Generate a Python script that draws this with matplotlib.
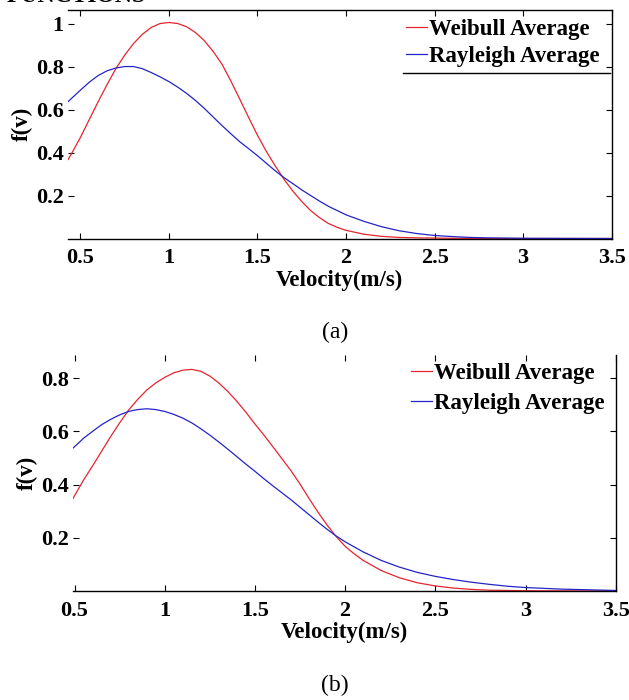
import matplotlib
matplotlib.use("Agg")
import matplotlib.pyplot as plt
from matplotlib.lines import Line2D

# ---------------- data ----------------
# (a)
v_a_weib = [0.43, 0.45, 0.5, 0.55, 0.6, 0.65, 0.7, 0.75, 0.8, 0.85, 0.9, 0.95,
            1.0, 1.05, 1.1, 1.15, 1.2, 1.25, 1.3, 1.35, 1.4, 1.45, 1.5, 1.55,
            1.6, 1.65, 1.7, 1.75, 1.8, 1.85, 1.9, 1.95, 2.0, 2.1, 2.2, 2.3,
            2.4, 2.6, 2.8, 3.5]
f_a_weib = [0.367, 0.395, 0.47, 0.553, 0.636, 0.715, 0.79, 0.853, 0.907, 0.95,
            0.982, 1.0, 1.005, 1.0, 0.985, 0.958, 0.92, 0.87, 0.81, 0.732,
            0.648, 0.563, 0.48, 0.405, 0.338, 0.275, 0.22, 0.172, 0.13, 0.097,
            0.07, 0.052, 0.038, 0.02, 0.01, 0.005, 0.003, 0.001, 0.0, 0.0]
v_a_rayl = [0.43, 0.45, 0.5, 0.55, 0.6, 0.65, 0.7, 0.75, 0.8, 0.85, 0.9, 0.95,
            1.0, 1.05, 1.1, 1.15, 1.2, 1.25, 1.3, 1.35, 1.4, 1.45, 1.5, 1.55,
            1.6, 1.65, 1.7, 1.75, 1.8, 1.85, 1.9, 1.95, 2.0, 2.1, 2.2, 2.3,
            2.4, 2.5, 2.6, 2.7, 2.8, 3.0, 3.5]
f_a_rayl = [0.636, 0.652, 0.69, 0.727, 0.758, 0.78, 0.793, 0.80, 0.80, 0.79,
            0.772, 0.752, 0.73, 0.704, 0.675, 0.642, 0.605, 0.565, 0.525,
            0.487, 0.45, 0.418, 0.385, 0.35, 0.315, 0.283, 0.255, 0.226, 0.20,
            0.174, 0.15, 0.13, 0.11, 0.08, 0.055, 0.036, 0.023, 0.014, 0.009,
            0.005, 0.003, 0.001, 0.0]

# (b)
v_b_weib = [0.49, 0.55, 0.6, 0.65, 0.7, 0.75, 0.8, 0.85, 0.9, 0.95, 1.0, 1.05,
            1.1, 1.15, 1.2, 1.25, 1.3, 1.35, 1.4, 1.45, 1.5, 1.55, 1.6, 1.65,
            1.7, 1.75, 1.8, 1.85, 1.9, 1.95, 2.0, 2.05, 2.1, 2.2, 2.3, 2.4,
            2.5, 2.6, 2.7, 2.8, 3.0, 3.5]
f_b_weib = [0.346, 0.417, 0.47, 0.525, 0.58, 0.632, 0.68, 0.72, 0.755, 0.782,
            0.803, 0.82, 0.83, 0.833, 0.826, 0.808, 0.782, 0.75, 0.713, 0.672,
            0.628, 0.586, 0.542, 0.497, 0.452, 0.402, 0.348, 0.296, 0.248,
            0.205, 0.168, 0.14, 0.115, 0.077, 0.05, 0.031, 0.019, 0.011,
            0.006, 0.003, 0.001, 0.0]
v_b_rayl = [0.49, 0.55, 0.6, 0.65, 0.7, 0.75, 0.8, 0.85, 0.9, 0.95, 1.0, 1.05,
            1.1, 1.15, 1.2, 1.25, 1.3, 1.35, 1.4, 1.45, 1.5, 1.55, 1.6, 1.65,
            1.7, 1.75, 1.8, 1.85, 1.9, 1.95, 2.0, 2.1, 2.2, 2.3, 2.4, 2.5,
            2.6, 2.7, 2.8, 2.9, 3.0, 3.2, 3.5]
f_b_rayl = [0.536, 0.574, 0.60, 0.625, 0.645, 0.662, 0.675, 0.682, 0.685,
            0.682, 0.675, 0.664, 0.65, 0.632, 0.61, 0.586, 0.56, 0.533, 0.505,
            0.477, 0.45, 0.422, 0.395, 0.369, 0.343, 0.315, 0.287, 0.259,
            0.232, 0.207, 0.185, 0.147, 0.115, 0.09, 0.07, 0.055, 0.043,
            0.033, 0.025, 0.018, 0.013, 0.007, 0.002]

x_ticks = [0.5, 1, 1.5, 2, 2.5, 3, 3.5]
x_tick_labels = ["0.5", "1", "1.5", "2", "2.5", "3", "3.5"]
y_ticks_a = [0.2, 0.4, 0.6, 0.8, 1.0]
y_tick_labels_a = ["0.2", "0.4", "0.6", "0.8", "1"]
y_ticks_b = [0.2, 0.4, 0.6, 0.8]
y_tick_labels_b = ["0.2", "0.4", "0.6", "0.8"]
series_labels = ["Weibull Average", "Rayleigh Average"]
captions = ["(a)", "(b)"]

# ---------------- figure ----------------
W, H = 629, 700
fig = plt.figure(figsize=(W / 100, H / 100), dpi=100)
SERIF = ["Liberation Serif", "DejaVu Serif"]
FS_TICK = 16
FS_LAB = 16.5
tick_font = dict(family=SERIF, weight="bold", size=FS_TICK)
lab_font = dict(family=SERIF, weight="bold", size=FS_LAB)
RED = "#e5252f"
BLUE = "#2424c8"


def px_rect(l, t, r, b):
    return [l / W, 1 - b / H, (r - l) / W, (b - t) / H]


def style(ax, yt, ytl, hide_top):
    ax.set_xticks(x_ticks)
    ax.set_xticklabels(x_tick_labels, **tick_font)
    ax.set_yticks(yt)
    ax.set_yticklabels(ytl, **tick_font)
    ax.tick_params(direction="in", top=True, right=True, length=4, width=0.8,
                   color="black")
    ax.tick_params(axis="x", pad=7)
    ax.tick_params(axis="y", pad=3)
    ax.spines["left"].set_visible(False)
    if hide_top:
        ax.spines["top"].set_visible(False)
    for s in ax.spines.values():
        s.set_linewidth(1.0)
    ax.set_xlabel("Velocity(m/s)", labelpad=1, **lab_font)
    ax.set_ylabel("f(v)", labelpad=2, **lab_font)


# (a)
ax1 = fig.add_axes(px_rect(68, 10, 611.7, 238.5))
l1, = ax1.plot(v_a_weib, f_a_weib, color=RED, lw=0.9)
l2, = ax1.plot(v_a_rayl, f_a_rayl, color=BLUE, lw=0.9)
ax1.set_xlim(0.43, 3.5)
ax1.set_ylim(0, 1.063)
style(ax1, y_ticks_a, y_tick_labels_a, hide_top=False)
ax1.legend([l1, l2], series_labels, loc="upper left",
           bbox_to_anchor=(406 / W, 1 - 19 / H), bbox_transform=fig.transFigure,
           frameon=False, prop=dict(family=SERIF, weight="bold", size=FS_LAB),
           handlelength=0.9, handletextpad=0.1, labelspacing=0.25,
           borderpad=0, borderaxespad=0)
fig.add_artist(Line2D([402.7 / W, 610 / W], [1 - 72.7 / H] * 2,
                      color="black", lw=1.0))

# (b)
ax2 = fig.add_axes(px_rect(72.7, 354.5, 615.7, 591))
m1, = ax2.plot(v_b_weib, f_b_weib, color=RED, lw=0.9)
m2, = ax2.plot(v_b_rayl, f_b_rayl, color=BLUE, lw=0.9)
ax2.set_xlim(0.49, 3.5)
ax2.set_ylim(0, 0.889)
style(ax2, y_ticks_b, y_tick_labels_b, hide_top=True)
ax2.legend([m1, m2], series_labels, loc="upper left",
           bbox_to_anchor=(411 / W, 1 - 363 / H), bbox_transform=fig.transFigure,
           frameon=False, prop=dict(family=SERIF, weight="bold", size=FS_LAB),
           handlelength=0.9, handletextpad=0.1, labelspacing=0.38,
           borderpad=0, borderaxespad=0)

# captions
fig.text(335 / W, 1 - 332 / H, captions[0], ha="center", va="center",
         family=SERIF, size=17)
fig.text(335 / W, 1 - 685 / H, captions[1], ha="center", va="center",
         family=SERIF, size=17)
# cut-off heading at the very top
fig.text(7 / W, 1 - 1.5 / H, "FUNCTIONS", ha="left", va="baseline",
         family=SERIF, weight="bold", size=17)

fig.savefig("out.png", dpi=100)
